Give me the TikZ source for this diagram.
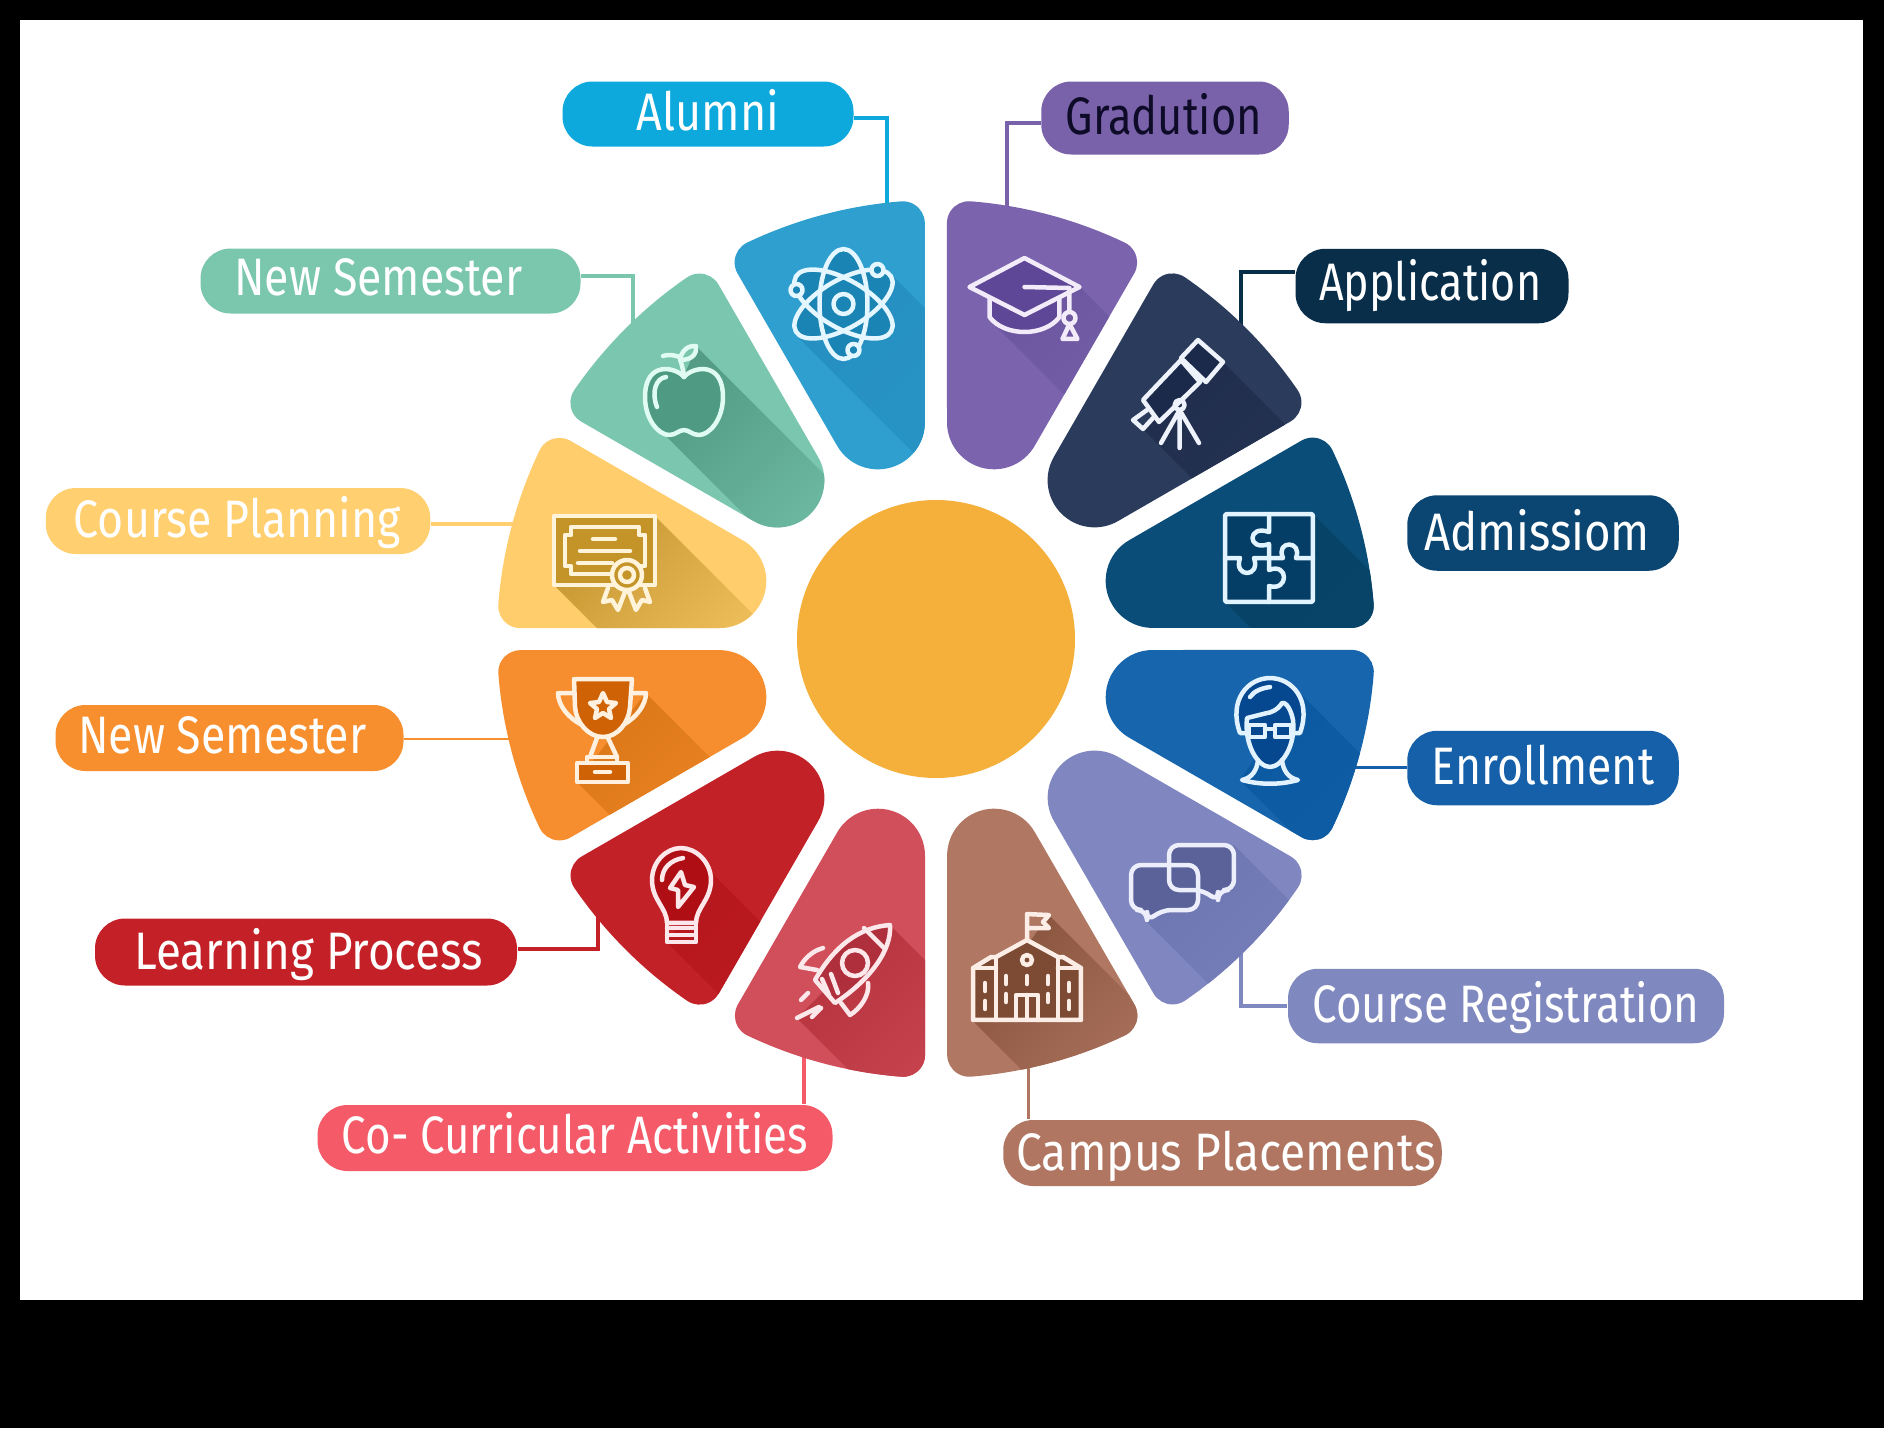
\documentclass[tikz,border=0pt]{standalone}
\usepackage{fontspec}
\setmainfont{Fira Sans}[FakeStretch=0.8]
\usetikzlibrary{positioning}
\definecolor{hubcolor}{HTML}{F4B03A}
\definecolor{alumnicolor}{HTML}{0DA9DC}
\definecolor{gradutioncolor}{HTML}{7A62AA}
\definecolor{gradutiontext}{HTML}{0E0B28}
\definecolor{applicationcolor}{HTML}{082E4A}
\definecolor{admissioncolor}{HTML}{0B4572}
\definecolor{enrollmentcolor}{HTML}{1560A8}
\definecolor{registrationcolor}{HTML}{7F88BF}
\definecolor{campuscolor}{HTML}{B07661}
\definecolor{curricularcolor}{HTML}{F45A68}
\definecolor{learningcolor}{HTML}{C42027}
\definecolor{semesterbcolor}{HTML}{F78F2E}
\definecolor{planningcolor}{HTML}{FFCF70}
\definecolor{semesteracolor}{HTML}{7AC7AD}
\newcommand{\petalpath}{(0.11,2.167) arc[start angle=180,end angle=330,radius=0.47] -- (1.982,3.656) arc[start angle=-30,end angle=64.54,radius=0.22] arc[start angle=64.54,end angle=85.46,radius=4.39] arc[start angle=85.46,end angle=180,radius=0.22] -- cycle}
\newcommand{\pilltext}[4]{\raisebox{#2}[0pt][0pt]{\makebox[0pt]{\hspace*{#1}\scalebox{#3}[1]{#4}}}}
\tikzset{
	pill/.style={fill=#1,text=white,rounded corners=0.3cm,inner sep=0pt,font=\fontsize{15}{18}\selectfont},
	wire/.style={draw=#1,line width=0.04cm},
	icon/.style={color=#1,line width=0.045cm,line join=round,line cap=round},
}
\begin{document}
\begin{tikzpicture}
	\useasboundingbox (0,0) rectangle (18.84,-14.28);
	\fill [black] (0,0) rectangle (18.84,-14.28);
	\fill [white] (0.20,-0.20) rectangle (18.63,-13.00);
	\node [pill=alumnicolor,minimum width=2.91cm,minimum height=0.65cm] (alumni) at (7.08,-1.14) {\pilltext{0cm}{-0.161cm}{1.064}{Alumni}};
	\node [pill=gradutioncolor,minimum width=2.475cm,minimum height=0.73cm,text=gradutiontext] (gradution) at (11.65,-1.18) {\pilltext{-0.024cm}{-0.167cm}{1.03}{Gradution}};
	\node [pill=applicationcolor,minimum width=2.73cm,minimum height=0.745cm] (application) at (14.32,-2.86) {\pilltext{-0.036cm}{-0.149cm}{1.02}{Application}};
	\node [pill=admissioncolor,minimum width=2.715cm,minimum height=0.755cm] (admission) at (15.43,-5.33) {\pilltext{-0.12cm}{-0.179cm}{1.08}{Admissiom}};
	\node [pill=enrollmentcolor,minimum width=2.715cm,minimum height=0.745cm] (enrollment) at (15.43,-7.68) {\pilltext{0cm}{-0.161cm}{1.057}{Enrollment}};
	\node [pill=registrationcolor,minimum width=4.36cm,minimum height=0.745cm] (registration) at (15.06,-10.06) {\pilltext{0cm}{-0.161cm}{1.04}{Course Registration}};
	\node [pill=campuscolor,minimum width=4.385cm,minimum height=0.66cm] (campus) at (12.225,-11.53) {\pilltext{0.072cm}{-0.179cm}{1.094}{Campus Placements}};
	\node [pill=curricularcolor,minimum width=5.15cm,minimum height=0.66cm] (curricular) at (5.75,-11.38) {\pilltext{0cm}{-0.155cm}{1.04}{Co- Curricular Activities}};
	\node [pill=learningcolor,minimum width=4.22cm,minimum height=0.67cm] (learning) at (3.06,-9.52) {\pilltext{0.06cm}{-0.173cm}{1.087}{Learning Process}};
	\node [pill=semesterbcolor,minimum width=3.48cm,minimum height=0.66cm] (semesterb) at (2.295,-7.38) {\pilltext{-0.144cm}{-0.155cm}{1.06}{New Semester}};
	\node [pill=planningcolor,minimum width=3.845cm,minimum height=0.66cm] (planning) at (2.38,-5.21) {\pilltext{-0.012cm}{-0.167cm}{1.06}{Course Planning}};
	\node [pill=semesteracolor,minimum width=3.8cm,minimum height=0.65cm] (semestera) at (3.905,-2.81) {\pilltext{-0.24cm}{-0.149cm}{1.06}{New Semester}};
	\coordinate (alumniend) at (8.87,-2.10);
	\coordinate (gradutionend) at (10.07,-2.15);
	\coordinate (applicationend) at (12.41,-3.35);
	\coordinate (planningend) at (5.20,-5.24);
	\coordinate (semesterbend) at (5.15,-7.39);
	\coordinate (semesteraend) at (6.33,-3.25);
	\coordinate (enrollmentend) at (13.50,-7.67);
	\coordinate (registrationend) at (12.41,-9.50);
	\coordinate (campusend) at (10.285,-10.60);
	\coordinate (curricularend) at (8.04,-10.50);
	\coordinate (learningend) at (5.98,-9.15);
	\draw [wire=alumnicolor] ([yshift=-0.04cm]alumni.east) -| (alumniend);
	\draw [wire=gradutioncolor] ([yshift=-0.045cm]gradution.west) -| (gradutionend);
	\draw [wire=applicationcolor] ([yshift=0.145cm]application.west) -| (applicationend);
	\draw [wire=planningcolor] (planning.east |- planningend) -- (planningend);
	\draw [wire=semesterbcolor,line width=0.022cm] (semesterb.east |- semesterbend) -- (semesterbend);
	\draw [wire=semesteracolor] ([yshift=0.05cm]semestera.east) -| (semesteraend);
	\draw [wire=enrollmentcolor,line width=0.03cm] (enrollment.west |- enrollmentend) -- (enrollmentend);
	\draw [wire=registrationcolor] (registration.west) -| (registrationend);
	\draw [wire=campuscolor,line width=0.022cm] (campusend |- campus.north) -- (campusend);
	\draw [wire=curricularcolor] (curricularend |- curricular.north) -- (curricularend);
	\draw [wire=learningcolor] ([yshift=0.03cm]learning.east) -| (learningend);
	\node [circle,fill=hubcolor,minimum size=2.78cm,inner sep=0pt] (hub) at (9.36,-6.39) {};
	\foreach \rot/\pbase/\pshadow/\pfade/\ux/\uy/\lx/\ly/\len in {
		30/2F9FD0/2690C2/2A98CA/8.84/-2.67/7.98/-3.37/3.0,
		0/7B64AD/6C57A0/7A63AC/10.80/-2.87/9.90/-3.20/1.5,
		-30/2A3B5C/212E4E/283858/12.23/-3.62/11.43/-4.29/2.0,
		-60/0A4D78/074366/084568/13.13/-5.14/12.25/-6.02/2.0,
		-90/1766AD/0C5AA2/1161A8/13.00/-6.93/12.40/-7.80/2.0,
		-120/8087C0/6E77B2/7D84BE/12.34/-8.45/11.47/-9.22/1.5,
		-150/B07762/8A553E/B07762/10.49/-9.15/9.73/-10.21/1.2,
		180/D14F5A/B83540/CF4D58/8.90/-9.25/7.97/-10.18/1.5,
		150/C32128/B7181D/BE1E24/7.12/-8.73/6.67/-9.42/2.0,
		120/F68D2E/DC7818/F08828/6.457/-6.93/5.767/-7.817/1.2,
		90/FFCD6C/C89A34/FFCD6C/6.55/-5.16/5.54/-5.85/1.5,
		60/7AC6AE/549C85/76C3AB/6.967/-3.467/6.60/-4.30/1.9} {
		\definecolor{petalbase}{HTML}{\pbase}
		\definecolor{petalshadow}{HTML}{\pshadow}
		\definecolor{petalfade}{HTML}{\pfade}
		\begin{scope}
			\clip [shift={(9.36,-6.39)},rotate=\rot] \petalpath;
			\fill [petalbase] (0,0) rectangle (18.84,-14.28);
			\shade [top color=petalshadow,bottom color=petalfade,shading angle=45] (\ux,\uy) -- ({\ux+\len},{\uy-\len}) -- ({\lx+\len},{\ly-\len}) -- (\lx,\ly) -- cycle;
		\end{scope}
	}
	\definecolor{inner}{HTML}{1A84B4}
	\definecolor{line}{HTML}{E4F6FF}
	\begin{scope}[shift={(8.435,-3.04)},x=0.01cm,y=0.01cm,icon=line]
		\fill [inner] (0,0) ellipse (24 and 55);
		\fill [inner,rotate=30] (0,0) ellipse (55 and 24);
		\fill [inner,rotate=-30] (0,0) ellipse (55 and 24);
		\draw (0,0) ellipse (24 and 55);
		\draw [rotate=30] (0,0) ellipse (55 and 24);
		\draw [rotate=-30] (0,0) ellipse (55 and 24);
		\draw (0,0) circle (10);
		\draw [fill=inner] (34,34) circle (6);
		\draw [fill=inner] (-47,14) circle (6);
		\draw [fill=inner] (10,-46) circle (6);
	\end{scope}
	\definecolor{inner}{HTML}{5E4796}
	\definecolor{line}{HTML}{F2ECFA}
	\begin{scope}[shift={(10.245,-2.87)},x=0.01cm,y=0.01cm,icon=line]
		\draw [fill=inner] (-35,-11) -- (-35,-30) .. controls (-20,-50) and (20,-50) .. (35,-30) -- (35,-11);
		\draw [fill=inner] (0,29) -- (55,0) -- (0,-28) -- (-55,0) -- cycle;
		\draw (0,0) -- (45,-1) -- (45,-24);
		\draw (45,-31) circle (6);
		\draw (45,-37) -- (53,-52) -- (38,-52) -- cycle;
	\end{scope}
	\definecolor{inner}{HTML}{1B2A4A}
	\definecolor{line}{HTML}{EEF2FA}
	\begin{scope}[shift={(11.79,-3.95)},x=0.01cm,y=0.01cm,icon=line]
		\draw [fill=inner] (2,35) -- (-36,-5) -- (-20,-27) -- (21,13) -- cycle;
		\draw [fill=inner] (19,55) -- (44,33) -- (27,13) -- (2,37) -- cycle;
		\draw (-32,-15) -- (-46,-25) -- (-36,-34) -- (-26,-23);
		\draw (0.6,-10) circle (5);
		\draw (0.6,-15) -- (-18,-48) (0.6,-15) -- (0.6,-53) (0.6,-15) -- (20,-48);
	\end{scope}
	\definecolor{inner}{HTML}{043E66}
	\definecolor{line}{HTML}{E2F4FF}
	\begin{scope}[shift={(12.69,-5.58)},x=0.01cm,y=0.01cm,icon=line]
		\draw [fill=inner,rounded corners=0.02cm] (-44,-44) rectangle (44,44);
		\draw (0,44) -- (0,26) .. controls (-22,34) and (-22,6) .. (0,14) -- (0,0);
		\draw (0,0) -- (14,0) .. controls (6,18) and (34,18) .. (27,0) -- (44,0);
		\draw (0,0) -- (0,-12) .. controls (20,-4) and (20,-34) .. (0,-28) -- (0,-44);
		\draw (-44,0) -- (-29,0) .. controls (-36,-20) and (-8,-20) .. (-15,0) -- (0,0);
	\end{scope}
	\definecolor{inner}{HTML}{05488F}
	\definecolor{line}{HTML}{E2F2FF}
	\begin{scope}[shift={(12.70,-7.30)},x=0.01cm,y=0.01cm,icon=line]
		\draw [fill=inner] (-30,-3) .. controls (-42,30) and (-22,52) .. (0,52) .. controls (22,52) and (42,30) .. (30,-3) -- cycle;
		\draw [fill=inner] (-23,12) .. controls (-26,-15) and (-12,-37) .. (0,-37) .. controls (12,-37) and (26,-15) .. (23,10) .. controls (20,25) and (14,28) .. (12,27) .. controls (8,20) and (0,17) .. (-3,17) -- cycle;
		\draw (-20,33) .. controls (-16,39) and (-8,42) .. (0,43);
		\draw (-21,5) rectangle (-5,-7);
		\draw (5,5) rectangle (21,-7);
		\draw (-5,1) -- (5,1);
		\draw (-12,-30) .. controls (-13,-40) and (-18,-48) .. (-28,-50) .. controls (-10,-55) and (10,-55) .. (28,-50) .. controls (18,-48) and (13,-40) .. (12,-30);
	\end{scope}
	\definecolor{inner}{HTML}{5A6299}
	\definecolor{line}{HTML}{ECEEFC}
	\begin{scope}[shift={(11.83,-8.82)},x=0.01cm,y=0.01cm,rounded corners=0.1cm,icon=line]
		\fill [inner] (-52,17) -- (15,17) -- (15,-28) -- (-22,-28) -- (-36,-40) -- (-36,-28) -- (-52,-28) -- cycle;
		\fill [inner] (-14,37) -- (51,37) -- (51,-8) -- (35,-8) -- (35,-20) -- (21,-8) -- (-14,-8) -- cycle;
		\draw (-52,17) -- (15,17) -- (15,-28) -- (-22,-28) -- (-36,-40) -- (-36,-28) -- (-52,-28) -- cycle;
		\draw (-14,37) -- (51,37) -- (51,-8) -- (35,-8) -- (35,-20) -- (21,-8) -- (-14,-8) -- cycle;
	\end{scope}
	\definecolor{inner}{HTML}{7D4A33}
	\definecolor{line}{HTML}{FCEEE6}
	\begin{scope}[shift={(10.27,-9.75)},x=0.01cm,y=0.01cm,icon=line]
		\fill [inner] (-54,7) -- (-36,18) -- (-31,18) -- (0,35) -- (31,18) -- (36,18) -- (54,7) -- (54,-45) -- (-54,-45) -- cycle;
		\draw (-54,-45) -- (-54,7) -- (-36,18) -- (-31,18) -- (0,35) -- (31,18) -- (36,18) -- (54,7) -- (54,-45) -- cycle;
		\draw (-54,7) -- (-31,7) (31,7) -- (54,7) (-31,18) -- (-31,-45) (31,18) -- (31,-45);
		\draw (0,35) -- (0,61) -- (22,60) -- (16,53) -- (22,47) -- (0,47);
		\draw (0,15) circle (5);
		\draw (-21,-1) -- (-21,-9) (0,-1) -- (0,-9) (21,-1) -- (21,-9);
		\draw (-21,-19) -- (-21,-27) (21,-19) -- (21,-27);
		\draw (-42,-8) -- (-42,-16) (42,-8) -- (42,-16) (-42,-26) -- (-42,-34) (42,-26) -- (42,-34);
		\draw (-11,-45) -- (-11,-20) -- (11,-20) -- (11,-45) (0,-20) -- (0,-45);
	\end{scope}
	\definecolor{inner}{HTML}{B02F3C}
	\definecolor{line}{HTML}{FCE8EA}
	\begin{scope}[shift={(8.50,-9.65)},x=0.01cm,y=0.01cm,icon=line]
		\fill [inner] (-35,-15) .. controls (-15,20) and (10,38) .. (40,40) .. controls (42,15) and (20,-15) .. (-15,-38) -- cycle;
		\draw (-35,-15) .. controls (-15,20) and (10,38) .. (40,40) .. controls (42,15) and (20,-15) .. (-15,-38) -- cycle;
		\draw (14,37) -- (34,17);
		\draw (5,2) circle (13);
		\draw (-27,17) .. controls (-38,14) and (-46,6) .. (-50,-2) -- (-33,-5);
		\draw (18,-18) .. controls (20,-30) and (10,-44) .. (0,-50) -- (-9,-38);
		\draw (-28,-14) -- (-21,-30) (-19,-9) -- (-12,-28);
		\draw (-42,-28) -- (-49,-35) (-31,-42) -- (-53,-53) (-29,-43) -- (-38,-52);
	\end{scope}
	\definecolor{inner}{HTML}{AF0E14}
	\definecolor{line}{HTML}{FCE8EA}
	\begin{scope}[shift={(6.81,-8.90)},x=0.01cm,y=0.01cm,icon=line]
		\draw [fill=inner] (-14,-33) .. controls (-14,-18) and (-29,-10) .. (-29,10) .. controls (-29,28) and (-15,42) .. (0,42) .. controls (15,42) and (30,28) .. (30,10) .. controls (30,-10) and (15,-18) .. (15,-33) -- cycle;
		\draw (-19,10) .. controls (-19,22) and (-10,30) .. (2,32);
		\draw (0,18) -- (-11,2) -- (-3,0) -- (-3,-17) -- (13,3) -- (4,5) -- cycle;
		\draw (-14,-33) -- (-14,-52) -- (15,-52) -- (15,-33);
		\draw (-14,-38) -- (12,-38) (-14,-45) -- (12,-45);
	\end{scope}
	\definecolor{inner}{HTML}{CF6205}
	\definecolor{line}{HTML}{FFF0DF}
	\begin{scope}[shift={(6.00,-7.00)},x=0.01cm,y=0.01cm,icon=line]
		\draw (-25,7) -- (-42,7) .. controls (-42,-5) and (-32,-18) .. (-18,-25);
		\draw (30,7) -- (46,7) .. controls (46,-5) and (36,-18) .. (23,-25);
		\draw [fill=inner] (-26,21) -- (32,21) -- (30,-7) .. controls (29,-22) and (18,-37) .. (3,-37) .. controls (-12,-37) and (-24,-22) .. (-25,-7) -- cycle;
		\draw (3,7) -- (7,-2) -- (16,-3) -- (9,-9) -- (11,-18) -- (3,-13) -- (-5,-18) -- (-3,-9) -- (-10,-3) -- (-1,-2) -- cycle;
		\draw (-3,-38) -- (-10,-57) (8,-38) -- (17,-57);
		\draw (-13,-57) rectangle (17,-63);
		\draw [fill=inner] (-23,-63) rectangle (28,-82);
		\draw (-5,-72) -- (10,-72);
	\end{scope}
	\definecolor{inner}{HTML}{C59428}
	\definecolor{line}{HTML}{FFF3D9}
	\begin{scope}[shift={(6.04,-5.50)},x=0.01cm,y=0.01cm,icon=line]
		\draw [fill=inner] (-50,34) rectangle (51,-35);
		\draw (-39,15) -- (-33,15) -- (-33,23) -- (35,23) -- (35,15) -- (41,15) -- (41,-16) -- (35,-16) -- (35,-24) -- (-33,-24) -- (-33,-16) -- (-39,-16) -- cycle;
		\draw (-11,11) -- (11,11) (-24,-1) -- (26,-1) (-26,-13) -- (8,-13);
		\draw (4,-38) -- (-1,-52) -- (8,-50) -- (14,-60) -- (21,-42);
		\draw (25,-42) -- (32,-60) -- (38,-50) -- (46,-52) -- (41,-38);
		\draw [fill=inner] (23,-25) circle (15);
		\draw (23,-25) circle (7);
	\end{scope}
	\definecolor{inner}{HTML}{4E9A82}
	\definecolor{line}{HTML}{E0FCF2}
	\begin{scope}[shift={(6.84,-4.00)},x=0.01cm,y=0.01cm,icon=line]
		\draw [fill=inner] (0,23) .. controls (8,33) and (39,40) .. (39,3) .. controls (39,-20) and (25,-35) .. (15,-35) .. controls (8,-35) and (5,-30) .. (0,-30) .. controls (-5,-30) and (-8,-35) .. (-15,-35) .. controls (-25,-35) and (-39,-20) .. (-39,3) .. controls (-39,40) and (-8,33) .. (0,23) -- cycle;
		\draw (-18,23) .. controls (-28,22) and (-33,8) .. (-27,-7);
		\draw (0,23) .. controls (-1,33) and (-4,40) .. (-4,43) .. controls (-10,45) and (-16,46) .. (-21,44);
		\draw (-4,40) .. controls (-3,48) and (3,55) .. (12,54) .. controls (13,48) and (10,40) .. (-4,40) -- cycle;
	\end{scope}
\end{tikzpicture}
\end{document}
